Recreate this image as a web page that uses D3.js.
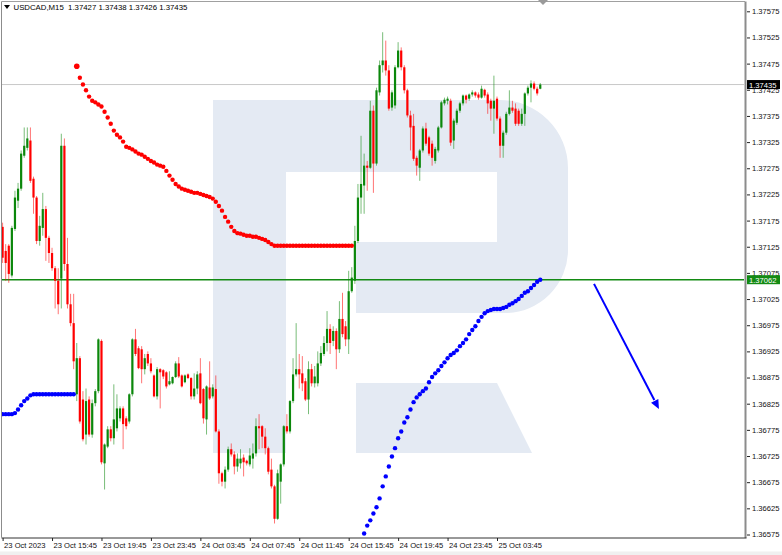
<!DOCTYPE html>
<html><head><meta charset="utf-8">
<script src="https://cdn.jsdelivr.net/npm/d3@7"></script>
<style>body{margin:0;background:#fff}svg{display:block}text{font-family:"Liberation Sans",Arial,sans-serif}</style>
</head><body><svg id="c" width="782" height="555"></svg>
<script>
// ---------------- data ----------------
const symbolTitle = "USDCAD,M15  1.37427 1.37438 1.37426 1.37435";
const opens = [
1.37163,1.37117,1.37127,1.37070,1.37159,1.37213,1.37236,1.37299,1.37314,1.37328,
1.37255,1.37219,1.37136,1.37161,1.37197,1.37142,1.37113,1.37084,1.37060,1.37064,
1.37318,1.37092,1.37015,1.36979,1.36843,1.36912,1.36833,1.36766,1.36833,1.36766,
1.36826,1.36849,1.36945,1.36711,1.36743,1.36776,1.36759,1.36778,1.36797,1.36816,
1.36797,1.36791,1.36843,1.36948,1.36931,1.36929,1.36891,1.36920,1.36902,1.36879,
1.36839,1.36891,1.36889,1.36885,1.36862,1.36864,1.36876,1.36902,1.36879,1.36866,
1.36881,1.36874,1.36839,1.36854,1.36883,1.36853,1.36795,1.36856,1.36839,1.36853,
1.36772,1.36692,1.36676,1.36699,1.36738,1.36728,1.36705,1.36711,1.36722,1.36716,
1.36709,1.36720,1.36730,1.36782,1.36782,1.36762,1.36740,1.36699,1.36667,1.36605,
1.36676,1.36709,1.36782,1.36772,1.36830,1.36881,1.36891,1.36883,1.36868,1.36833,
1.36891,1.36864,1.36864,1.36902,1.36920,1.36941,1.36968,1.36945,1.36964,1.36929,
1.36987,1.36973,1.36948,1.37040,1.37060,1.37136,1.37219,1.37242,1.37280,1.37276,
1.37385,1.37284,1.37420,1.37472,1.37481,1.37462,1.37391,1.37395,1.37468,1.37500,
1.37468,1.37424,1.37376,1.37356,1.37295,1.37276,1.37309,1.37351,1.37334,1.37322,
1.37289,1.37309,1.37353,1.37399,1.37404,1.37404,1.37328,1.37362,1.37385,1.37399,
1.37414,1.37408,1.37416,1.37420,1.37416,1.37410,1.37425,1.37416,1.37404,1.37389,
1.37408,1.37370,1.37318,1.37343,1.37379,1.37391,1.37389,1.37385,1.37360,1.37379,
1.37418,1.37429,1.37437,1.37427,1.37427];
const highs = [
1.37171,1.37130,1.37130,1.37165,1.37232,1.37247,1.37309,1.37353,1.37353,1.37353,
1.37259,1.37222,1.37184,1.37228,1.37203,1.37146,1.37123,1.37088,1.37084,1.37341,
1.37332,1.37142,1.37035,1.37035,1.36941,1.36916,1.36849,1.36854,1.36839,1.36833,
1.36853,1.36950,1.36948,1.36749,1.36782,1.36782,1.36862,1.36843,1.36820,1.36820,
1.36801,1.36845,1.36950,1.36968,1.36935,1.36935,1.36920,1.36925,1.36912,1.36881,
1.36895,1.36893,1.36891,1.36887,1.36887,1.36877,1.36906,1.36914,1.36881,1.36881,
1.36883,1.36876,1.36883,1.36887,1.36912,1.36855,1.36860,1.36906,1.36862,1.36879,
1.36776,1.36695,1.36705,1.36743,1.36749,1.36734,1.36730,1.36738,1.36728,1.36718,
1.36740,1.36749,1.36797,1.36805,1.36784,1.36778,1.36743,1.36720,1.36670,1.36699,
1.36711,1.36784,1.36805,1.36832,1.36912,1.36979,1.36920,1.36916,1.36874,1.36906,
1.36901,1.36897,1.36925,1.36935,1.36954,1.37002,1.36977,1.36973,1.36969,1.37021,
1.37037,1.36983,1.37079,1.37086,1.37165,1.37245,1.37337,1.37303,1.37289,1.37404,
1.37395,1.37429,1.37481,1.37535,1.37519,1.37472,1.37424,1.37472,1.37516,1.37506,
1.37472,1.37427,1.37385,1.37379,1.37299,1.37312,1.37355,1.37362,1.37337,1.37328,
1.37316,1.37356,1.37404,1.37410,1.37412,1.37408,1.37370,1.37389,1.37402,1.37416,
1.37416,1.37418,1.37424,1.37422,1.37420,1.37433,1.37427,1.37420,1.37408,1.37452,
1.37412,1.37374,1.37347,1.37383,1.37424,1.37404,1.37399,1.37389,1.37389,1.37420,
1.37433,1.37443,1.37441,1.37431,1.37438];
const lows = [
1.37094,1.37060,1.37056,1.37066,1.37155,1.37199,1.37232,1.37295,1.37309,1.37247,
1.37188,1.37130,1.37127,1.37146,1.37098,1.37094,1.37079,1.37007,1.36996,1.37007,
1.37079,1.37007,1.36973,1.36891,1.36830,1.36787,1.36753,1.36747,1.36762,1.36760,
1.36820,1.36845,1.36709,1.36661,1.36740,1.36753,1.36747,1.36772,1.36791,1.36738,
1.36776,1.36787,1.36839,1.36916,1.36891,1.36864,1.36881,1.36897,1.36883,1.36837,
1.36833,1.36816,1.36872,1.36854,1.36860,1.36862,1.36874,1.36874,1.36856,1.36864,
1.36872,1.36833,1.36833,1.36843,1.36824,1.36787,1.36766,1.36832,1.36835,1.36770,
1.36672,1.36667,1.36663,1.36695,1.36724,1.36690,1.36695,1.36701,1.36686,1.36707,
1.36705,1.36701,1.36724,1.36738,1.36740,1.36728,1.36690,1.36663,1.36596,1.36603,
1.36634,1.36705,1.36768,1.36768,1.36826,1.36877,1.36854,1.36849,1.36830,1.36805,
1.36858,1.36856,1.36858,1.36897,1.36916,1.36925,1.36920,1.36935,1.36891,1.36922,
1.36952,1.36935,1.36920,1.37037,1.37054,1.37132,1.37188,1.37188,1.37232,1.37274,
1.37228,1.37280,1.37414,1.37458,1.37452,1.37385,1.37385,1.37389,1.37466,1.37462,
1.37418,1.37372,1.37309,1.37289,1.37261,1.37251,1.37305,1.37318,1.37299,1.37280,
1.37284,1.37305,1.37351,1.37395,1.37397,1.37318,1.37312,1.37358,1.37381,1.37395,
1.37399,1.37404,1.37412,1.37410,1.37406,1.37408,1.37410,1.37379,1.37366,1.37341,
1.37366,1.37295,1.37295,1.37339,1.37376,1.37381,1.37356,1.37356,1.37356,1.37356,
1.37414,1.37401,1.37424,1.37414,1.37426];
const closes = [
1.37104,1.37094,1.37073,1.37161,1.37219,1.37236,1.37303,1.37318,1.37332,1.37251,
1.37219,1.37136,1.37165,1.37197,1.37142,1.37113,1.37084,1.37060,1.37015,1.37318,
1.37092,1.37015,1.36979,1.36906,1.36912,1.36791,1.36757,1.36830,1.36766,1.36826,
1.36849,1.36948,1.36713,1.36747,1.36776,1.36759,1.36795,1.36816,1.36816,1.36786,
1.36782,1.36843,1.36948,1.36920,1.36893,1.36891,1.36912,1.36902,1.36887,1.36839,
1.36891,1.36885,1.36877,1.36858,1.36868,1.36876,1.36902,1.36877,1.36858,1.36879,
1.36874,1.36839,1.36854,1.36881,1.36826,1.36797,1.36858,1.36835,1.36856,1.36772,
1.36692,1.36676,1.36699,1.36738,1.36728,1.36705,1.36720,1.36720,1.36713,1.36711,
1.36726,1.36730,1.36782,1.36778,1.36762,1.36740,1.36695,1.36667,1.36605,1.36692,
1.36709,1.36782,1.36772,1.36830,1.36881,1.36891,1.36881,1.36864,1.36833,1.36891,
1.36864,1.36877,1.36902,1.36922,1.36941,1.36968,1.36941,1.36964,1.36929,1.36987,
1.36958,1.36948,1.37040,1.37066,1.37136,1.37219,1.37245,1.37280,1.37276,1.37385,
1.37284,1.37424,1.37472,1.37481,1.37462,1.37389,1.37420,1.37468,1.37500,1.37468,
1.37424,1.37376,1.37353,1.37293,1.37280,1.37309,1.37351,1.37322,1.37303,1.37295,
1.37312,1.37353,1.37401,1.37406,1.37408,1.37324,1.37366,1.37385,1.37399,1.37414,
1.37406,1.37416,1.37420,1.37414,1.37410,1.37427,1.37414,1.37399,1.37389,1.37404,
1.37370,1.37318,1.37343,1.37379,1.37391,1.37385,1.37360,1.37360,1.37379,1.37418,
1.37429,1.37437,1.37427,1.37418,1.37435];

// red dotted indicator starts at bar 24
const redStartBar = 24;
const redDots = [
1.37470,1.37448,1.37435,1.37424,1.37412,1.37404,1.37401,1.37397,1.37393,1.37383,
1.37372,1.37360,1.37347,1.37339,1.37334,1.37326,1.37316,1.37314,1.37311,1.37307,
1.37303,1.37301,1.37297,1.37293,1.37289,1.37286,1.37282,1.37280,1.37278,1.37270,
1.37261,1.37253,1.37245,1.37240,1.37236,1.37234,1.37232,1.37230,1.37228,1.37228,
1.37226,1.37224,1.37222,1.37220,1.37217,1.37211,1.37203,1.37194,1.37182,1.37173,
1.37163,1.37155,1.37151,1.37150,1.37148,1.37146,1.37146,1.37144,1.37144,1.37142,
1.37140,1.37138,1.37134,1.37130,
1.37127,1.37127,1.37127,1.37127,1.37127,1.37127,1.37127,1.37127,1.37127,1.37127,
1.37127,1.37127,1.37127,1.37127,1.37127,1.37127,1.37127,1.37127,1.37127,1.37127,
1.37127,1.37127,1.37127,1.37127,1.37127,1.37127];
// blue dotted indicator: first run from bar 0, second run from bar 116
const blueStartBar1 = 0;
const blueDots1 = [
1.36805,1.36805,1.36805,1.36805,1.36807,1.36814,1.36822,1.36830,1.36835,1.36841,
1.36843,1.36843,1.36843,1.36843,1.36843,1.36843,1.36843,1.36843,1.36843,1.36843,
1.36843,1.36843,1.36843,1.36843];
const blueStartBar2 = 116;
const blueDots2 = [
1.36559,1.36577,1.36592,1.36602,1.36615,1.36627,1.36644,1.36667,1.36686,1.36705,
1.36724,1.36740,1.36759,1.36772,1.36789,1.36799,1.36814,1.36828,1.36837,1.36843,
1.36849,1.36854,1.36866,1.36876,1.36883,1.36889,1.36897,1.36904,1.36912,1.36918,
1.36922,1.36927,1.36935,1.36941,1.36948,1.36958,1.36966,1.36973,1.36983,1.36991,
1.36998,1.37002,1.37004,1.37006,1.37006,1.37006,1.37008,1.37010,1.37014,1.37017,
1.37021,1.37025,1.37031,1.37037,1.37040,1.37046,1.37052,1.37058,1.37062];

const levelGreen = 1.37062;   // horizontal support line
const levelBid = 1.37435;     // current price line
const arrowFrom = [191.4, 1.37054];
const arrowTo = [212.4, 1.36815];

const yTicks = [1.37575,1.37525,1.37475,1.37425,1.37375,1.37325,1.37275,1.37225,1.37175,1.37125,
1.37075,1.37025,1.36975,1.36925,1.36875,1.36825,1.36775,1.36725,1.36675,1.36625,1.36575];
const xTickBars = [0,16,32,48,64,80,96,112,128,144,160];
const xTickLabels = ["23 Oct 2023","23 Oct 15:45","23 Oct 19:45","23 Oct 23:45","24 Oct 03:45",
"24 Oct 07:45","24 Oct 11:45","24 Oct 15:45","24 Oct 19:45","24 Oct 23:45","25 Oct 03:45"];

// ---------------- drawing ----------------
const svg = d3.select("#c");
const PL = 1.5, PR = 745, PT = 1.5, PB = 537.5;
const x = d3.scaleLinear().domain([0,160]).range([2.6,497]);
const y = d3.scaleLinear().domain([1.36575,1.37575]).range([534.5,11.3]);
const GREEN = "#0b870b", RED = "#ff0000", BLUE = "#0000ff";

svg.append("rect").attr("width",782).attr("height",555).attr("fill","#fff");
svg.append("rect").attr("x",0).attr("y",551.5).attr("width",782).attr("height",4).attr("fill","#f0f0f0");

svg.append("defs").append("clipPath").attr("id","pc").append("rect")
  .attr("x",PL).attr("y",PT).attr("width",PR-PL-1).attr("height",PB-PT);

// watermark
const wm = svg.append("g").attr("fill","#e4eaf3");
wm.append("path").attr("d","M213,100 H500 A68,68 0 0 1 568,168 V250 A63,63 0 0 1 505,313 H356 V242 H497 V172 H286 V453 H213 Z");
wm.append("path").attr("d","M356,383 H497 L532,453 H356 Z");

const g = svg.append("g").attr("clip-path","url(#pc)");

// horizontal lines
g.append("line").attr("x1",PL).attr("x2",PR).attr("y1",y(levelBid)).attr("y2",y(levelBid))
  .attr("stroke","#c8c8c8").attr("stroke-width",1);
g.append("line").attr("x1",PL).attr("x2",PR).attr("y1",y(levelGreen)).attr("y2",y(levelGreen))
  .attr("stroke","#138a13").attr("stroke-width",1.6);

// candles
const bars = opens.map((o,i)=>({i,o,h:highs[i],l:lows[i],c:closes[i]}));
const cg = g.append("g");
cg.selectAll("line.w").data(bars).join("line").attr("class","w")
  .attr("x1",d=>x(d.i)).attr("x2",d=>x(d.i))
  .attr("y1",d=>y(Math.max(d.h,d.o,d.c))).attr("y2",d=>y(Math.min(d.l,d.o,d.c)))
  .attr("stroke",d=>d.c>=d.o?GREEN:RED).attr("stroke-opacity",0.55).attr("stroke-width",1);
cg.selectAll("rect.b").data(bars).join("rect").attr("class","b")
  .attr("x",d=>x(d.i)-1.1).attr("width",2.2)
  .attr("y",d=>y(Math.max(d.o,d.c)))
  .attr("height",d=>Math.max(1,Math.abs(y(d.o)-y(d.c))))
  .attr("fill",d=>d.c>=d.o?GREEN:RED);

// indicator dots
g.append("g").selectAll("circle").data(redDots).join("circle")
  .attr("cx",(d,k)=>x(redStartBar+k)).attr("cy",d=>y(d)).attr("r",(d,k)=>k===0?2.8:2.2).attr("fill",RED);
g.append("g").selectAll("circle").data(blueDots1).join("circle")
  .attr("cx",(d,k)=>x(blueStartBar1+k)).attr("cy",d=>y(d)).attr("r",2.2).attr("fill",BLUE);
g.append("g").selectAll("circle").data(blueDots2).join("circle")
  .attr("cx",(d,k)=>x(blueStartBar2+k)).attr("cy",d=>y(d)).attr("r",2.2).attr("fill",BLUE);

// arrow
{
  const x1=x(arrowFrom[0]), y1=y(arrowFrom[1]), x2=x(arrowTo[0]), y2=y(arrowTo[1]);
  const ang=Math.atan2(y2-y1,x2-x1), L=10, wA=0.42;
  const bx=x2-L*Math.cos(ang), by=y2-L*Math.sin(ang);
  g.append("line").attr("x1",x1).attr("y1",y1).attr("x2",bx).attr("y2",by)
    .attr("stroke",BLUE).attr("stroke-width",2);
  g.append("path").attr("d",`M${x2},${y2} L${x2-L*Math.cos(ang-wA)},${y2-L*Math.sin(ang-wA)} L${x2-L*Math.cos(ang+wA)},${y2-L*Math.sin(ang+wA)} Z`)
    .attr("fill",BLUE);
}

// frame
svg.append("line").attr("x1",PL).attr("x2",PL).attr("y1",PT).attr("y2",PB).attr("stroke","#8c8c8c");
svg.append("line").attr("x1",PL).attr("x2",PR).attr("y1",PT).attr("y2",PT).attr("stroke","#a0a0a0");
svg.append("line").attr("x1",PR+0.5).attr("x2",PR+0.5).attr("y1",PT).attr("y2",PB+0.5).attr("stroke","#8c8c8c").attr("stroke-width",2);
svg.append("line").attr("x1",PL).attr("x2",PR+1.5).attr("y1",PB+0.5).attr("y2",PB+0.5).attr("stroke","#333").attr("stroke-width",1);

// shift marker
svg.append("path").attr("d","M538,0 H548 L543,5 Z").attr("fill","#9a9a9a");

// y axis
const yAx = svg.append("g").attr("transform",`translate(${PR+2},0)`)
  .call(d3.axisRight(y).tickValues(yTicks).tickSize(3).tickPadding(2).tickFormat(d3.format(".5f")));
yAx.select(".domain").remove();
yAx.selectAll("line").attr("stroke","#222");
yAx.selectAll("text").attr("font-size","7.6px").attr("fill","#111").attr("font-family","Liberation Sans, Arial, sans-serif");

// x axis
const xAx = svg.append("g").attr("transform",`translate(0,${PB+0.5})`)
  .call(d3.axisBottom(x).tickValues(xTickBars).tickSize(3).tickFormat((d,k)=>xTickLabels[k]));
xAx.select(".domain").remove();
xAx.selectAll("line").attr("stroke","#222");
xAx.selectAll("text").attr("text-anchor","start").attr("dx","1px").attr("dy","0.55em")
  .attr("font-size","7.6px").attr("fill","#111").attr("font-family","Liberation Sans, Arial, sans-serif");

// price labels
function priceBox(v, fill){
  const cy=y(v);
  svg.append("rect").attr("x",PR+2).attr("y",cy-4.5).attr("width",33).attr("height",9).attr("fill",fill);
  svg.append("text").attr("x",PR+4).attr("y",cy+3).attr("font-size","7.6px").attr("fill","#fff")
    .text(d3.format(".5f")(v));
}
priceBox(levelBid,"#000");
priceBox(levelGreen,"#138a13");

// title
svg.append("path").attr("d","M4,5 H10 L7,9 Z").attr("fill","#000");
svg.append("text").attr("x",13.5).attr("y",10).attr("font-size","7.8px").attr("fill","#000")
  .attr("xml:space","preserve").text(symbolTitle);
</script></body></html>
